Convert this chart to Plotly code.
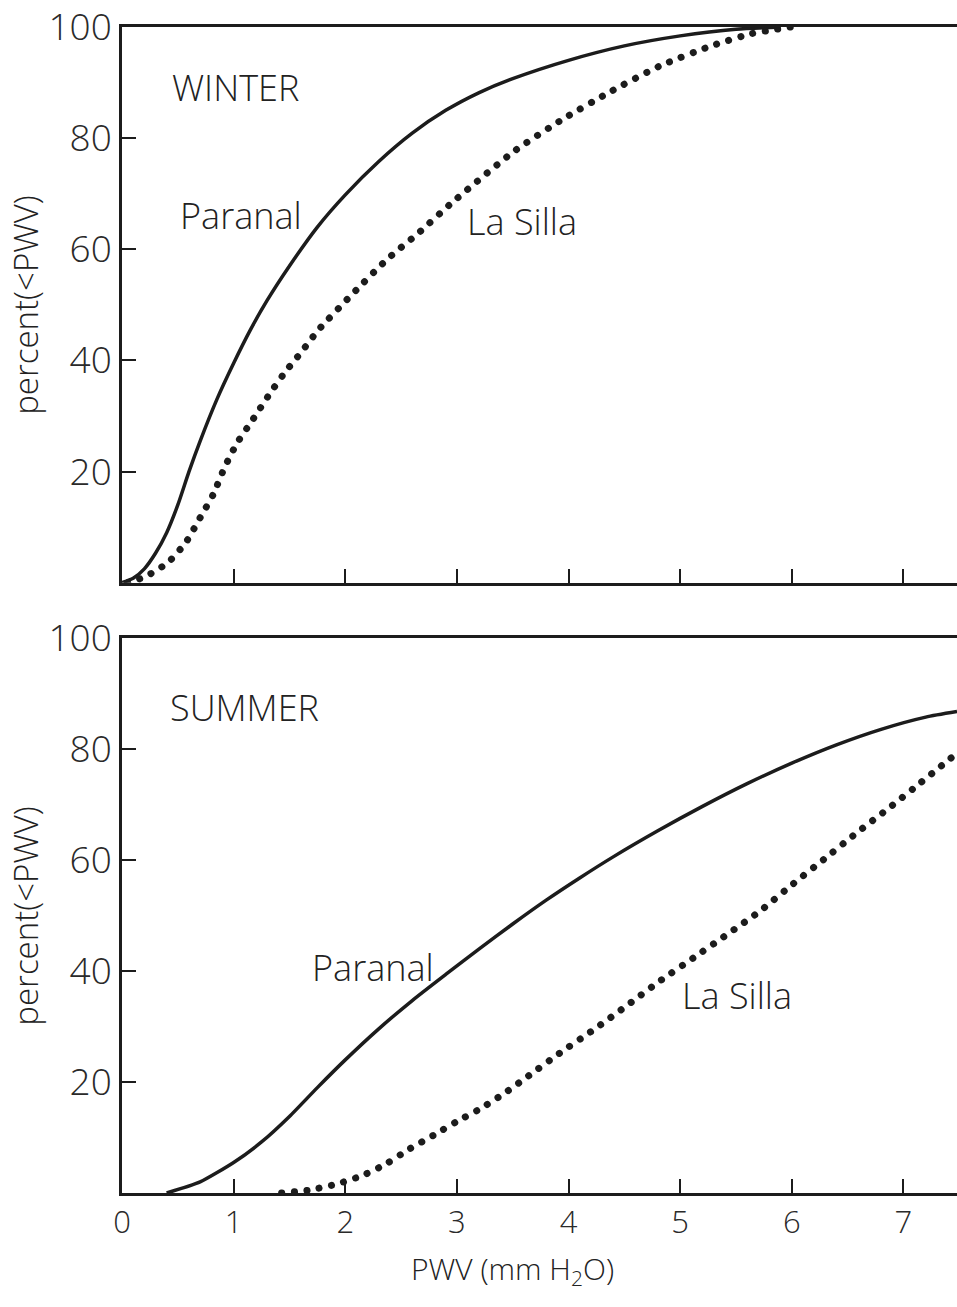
import plotly.graph_objects as go
from plotly.subplots import make_subplots

# Cumulative distribution of precipitable water vapour (percent of time below PWV)
winter_paranal_pwv = [0.00, 0.10, 0.20, 0.30, 0.40, 0.50, 0.60, 0.70, 0.85, 1.00, 1.15, 1.30, 1.50,
                      1.75, 2.00, 2.30, 2.60, 2.90, 3.20, 3.50, 4.00, 4.50, 5.00, 5.50, 5.90]
winter_paranal_pct = [0.0, 0.8, 2.5, 5.3, 9.0, 14.0, 20.0, 25.5, 33.0, 39.5, 45.5, 50.8, 57.0,
                      64.0, 69.8, 75.8, 80.9, 85.0, 88.2, 90.7, 94.0, 96.6, 98.4, 99.6, 100.0]

winter_lasilla_pwv = [0.05, 0.21, 0.41, 0.57, 0.70, 0.82, 0.92, 1.03, 1.17, 1.31, 1.45, 1.61, 1.76,
                      2.10, 2.37, 2.66, 2.94, 3.51, 3.94, 4.37, 4.82, 5.28, 5.64, 5.99]
winter_lasilla_pct = [0.0, 1.1, 3.6, 7.2, 11.7, 16.0, 20.8, 25.1, 29.3, 33.6, 37.6, 41.6, 45.5,
                      52.7, 58.1, 63.0, 68.1, 77.6, 83.3, 88.3, 93.0, 96.6, 98.8, 100.0]

summer_paranal_pwv = [0.40, 0.70, 1.00, 1.25, 1.50, 1.75, 2.00, 2.30, 2.60, 2.90, 3.20, 3.50,
                      3.80, 4.10, 4.40, 4.80, 5.20, 5.60, 6.00, 6.40, 6.80, 7.20, 7.48]
summer_paranal_pct = [0.0, 2.0, 5.5, 9.2, 13.8, 19.0, 24.0, 29.6, 34.7, 39.4, 44.0, 48.5,
                      52.8, 56.8, 60.6, 65.3, 69.7, 73.8, 77.5, 80.8, 83.6, 85.8, 86.8]

summer_lasilla_pwv = [1.43, 1.67, 1.92, 2.16, 2.37, 2.58, 2.79, 3.00, 3.21, 3.42, 3.62, 3.92,
                      4.23, 4.53, 4.81, 5.12, 5.42, 5.72, 6.01, 6.29, 6.58, 6.87, 7.15, 7.48]
summer_lasilla_pct = [0.0, 0.5, 1.6, 3.2, 5.3, 8.0, 10.4, 12.9, 15.2, 17.9, 20.8, 25.2,
                      29.5, 33.9, 38.1, 42.4, 46.6, 50.9, 55.7, 60.2, 64.9, 69.4, 73.9, 79.3]

x_ticks = [0, 1, 2, 3, 4, 5, 6, 7]
y_ticks = [20, 40, 60, 80, 100]

INK = "#1c1c1c"
FONT = "Open Sans"

fig = make_subplots(rows=2, cols=1, shared_xaxes=False, vertical_spacing=0.0)

def add_pair(row, p_x, p_y, l_x, l_y):
    fig.add_trace(go.Scatter(x=p_x, y=p_y, mode="lines",
                             line=dict(color=INK, width=3.5, shape="spline", smoothing=0.6),
                             name="Paranal", showlegend=False, hoverinfo="skip"), row=row, col=1)
    fig.add_trace(go.Scatter(x=l_x, y=l_y, mode="lines",
                             line=dict(color=INK, width=7, dash="0.1px,12.5px", shape="spline", smoothing=0.6),
                             name="La Silla", showlegend=False, hoverinfo="skip"), row=row, col=1)

add_pair(1, winter_paranal_pwv, winter_paranal_pct, winter_lasilla_pwv, winter_lasilla_pct)
add_pair(2, summer_paranal_pwv, summer_paranal_pct, summer_lasilla_pwv, summer_lasilla_pct)

axis_common = dict(showline=True, linecolor=INK, linewidth=2.5, showgrid=False, zeroline=False,
                   ticks="inside", tickcolor=INK, tickwidth=2, ticklen=14)

fig.update_xaxes(range=[0, 7.48], tickvals=x_ticks, mirror=True, **axis_common)
fig.update_xaxes(showticklabels=False, row=1, col=1)
fig.update_xaxes(showticklabels=True, ticktext=[str(v) for v in x_ticks],
                 tickfont=dict(family=FONT, size=31, color="#2a2a2a", weight=300), row=2, col=1)
fig.update_yaxes(range=[0, 100], tickvals=y_ticks, mirror=False, ticklabeloverflow="allow",
                 tickfont=dict(family=FONT, size=37, color="#2a2a2a", weight=300), **axis_common)

fig.update_layout(
    width=957, height=1307,
    margin=dict(l=122, r=0, t=18, b=114),
    plot_bgcolor="white", paper_bgcolor="white",
    xaxis=dict(domain=[0, 1]), xaxis2=dict(domain=[0, 1]),
    yaxis=dict(domain=[0.5234, 1.0]), yaxis2=dict(domain=[0.0, 0.4757]),
)

label_font = dict(family=FONT, size=36, color="#222", weight=300)
labels = [
    ("x", "y", 0.43, 89.1, "WINTER"),
    ("x", "y", 0.50, 66.1, "Paranal"),
    ("x", "y", 3.07, 65.0, "La Silla"),
    ("x2", "y2", 0.41, 87.5, "SUMMER"),
    ("x2", "y2", 1.68, 40.6, "Paranal"),
    ("x2", "y2", 5.00, 35.6, "La Silla"),
]
for xr, yr, xv, yv, txt in labels:
    fig.add_annotation(xref=xr, yref=yr, x=xv, y=yv, text=txt, showarrow=False,
                       xanchor="left", yanchor="middle", font=label_font)

for yr in ["y domain", "y2 domain"]:
    fig.add_annotation(xref="paper", yref=yr, x=0, y=0.5, xshift=-96, text="percent(&lt;PWV)",
                       textangle=-90, showarrow=False, xanchor="center", yanchor="middle",
                       font=dict(family=FONT, size=33, color="#222", weight=300))

fig.add_annotation(xref="x2", yref="paper", x=3.5, y=0, yshift=-77,
                   text="PWV (mm H<sub>2</sub>O)", showarrow=False, xanchor="center", yanchor="middle",
                   font=dict(family=FONT, size=30, color="#222", weight=300))

post = """
document.querySelectorAll('path.js-line').forEach(function(p){
  var d = p.style.strokeDasharray;
  if (d && d !== 'none') { p.style.strokeLinecap = 'round'; }
});
"""
fig.write_html("out.html", post_script=post)
